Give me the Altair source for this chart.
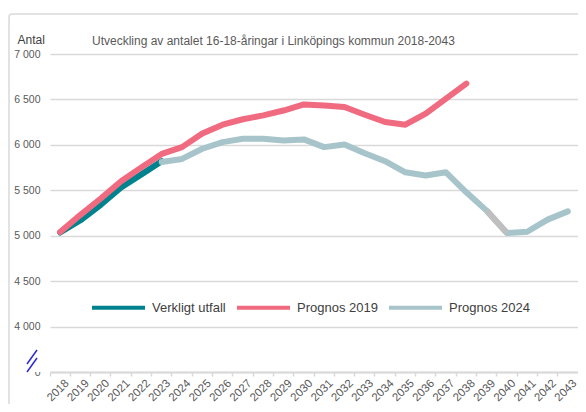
import altair as alt
import pandas as pd

# ---- data ----
all_years = list(range(2018, 2044))

years_actual = [2018, 2019, 2020, 2021, 2022, 2023]
actual = [5035, 5170, 5340, 5530, 5675, 5820]

years_p19 = list(range(2018, 2039))
p19 = [5040, 5230, 5410, 5600, 5752, 5900, 5975, 6125, 6222, 6282, 6325, 6378, 6445,
       6432, 6416, 6332, 6252, 6222, 6343, 6509, 6674]

years_p24 = list(range(2023, 2044))
p24 = [5812, 5845, 5957, 6030, 6067, 6067, 6049, 6060, 5975, 6004, 5908, 5820, 5698,
       5662, 5698, 5478, 5276, 5030, 5044, 5177, 5268]

grey_years = [2039, 2040]

series_names = ["Verkligt utfall", "Prognos 2019", "Prognos 2024"]
series_colors = ["#00838f", "#f06a80", "#a6c4ca"]

y_ticks = [3500, 4000, 4500, 5000, 5500, 6000, 6500, 7000]

title_text = "Utveckling av antalet 16-18-åringar i Linköpings kommun 2018-2043"

FONT = "Liberation Sans, Arial, sans-serif"

rows = []
for yrs, vals, name in [(years_actual, actual, series_names[0]),
                        (years_p19, p19, series_names[1]),
                        (years_p24, p24, series_names[2])]:
    for yr, v in zip(yrs, vals):
        rows.append({"year": str(yr), "value": v, "series": name})
df = pd.DataFrame(rows)
df_grey = df[(df.series == series_names[2]) & (df.year.isin([str(y) for y in grey_years]))]

x_enc = alt.X(
    "year:O",
    bandPosition=0.5,
    scale=alt.Scale(type="band", domain=[str(y) for y in all_years], paddingInner=0, paddingOuter=0),
    axis=alt.Axis(
        title=None, labelAngle=-45, bandPosition=0, labelOffset=3,
        tickSize=4, tickColor="#d9d9d9", tickWidth=1.5,
        domainColor="#d9d9d9", domainWidth=2, grid=False,
        labelColor="#595959", labelFontSize=11.5, labelFont=FONT,
        labelPadding=1, labelOverlap=False,
    ),
)
y_enc = alt.Y(
    "value:Q",
    scale=alt.Scale(domain=[3500, 7000], nice=False, zero=False),
    axis=alt.Axis(
        values=y_ticks,
        labelExpr="datum.value == 3500 ? '0' : replace(format(datum.value, ','), ',', ' ')",
        domain=False, ticks=False, labelPadding=10,
        gridColor="#d9d9d9", gridWidth=1.5,
        labelColor="#595959", labelFontSize=10.5, labelFont=FONT,
        title="Antal", titleAngle=0, titleX=-33, titleY=-11, titleAlign="left",
        titleBaseline="alphabetic", titleFontSize=12, titleFontWeight="normal",
        titleColor="#404040", titleFont=FONT,
    ),
)
color_enc = alt.Color(
    "series:N",
    scale=alt.Scale(domain=series_names, range=series_colors),
    legend=alt.Legend(
        title=None, orient="none", direction="horizontal", legendX=40, legendY=225,
        symbolType="stroke", symbolSize=2809, symbolStrokeWidth=4,
        labelFontSize=13, labelColor="#404040", labelFont=FONT,
        labelOffset=5, columnPadding=3,
    ),
)

base = alt.Chart(df).mark_line(strokeWidth=6, strokeCap="round", strokeJoin="round").encode(
    x=x_enc, y=y_enc, color=color_enc
)
layers = [base.transform_filter(alt.datum.series == n) for n in series_names]

grey_layer = alt.Chart(df_grey).mark_line(strokeWidth=6, strokeCap="butt", color="#bfbfbf").encode(
    x="year:O", y="value:Q"
)

one = pd.DataFrame({"a": [0]})
frame = alt.Chart(one).mark_rect(fillOpacity=0, stroke="#d9d9d9", strokeWidth=1.5, cornerRadius=3).encode(
    x=alt.value(-41), x2=alt.value(600), y=alt.value(-40), y2=alt.value(420)
)
cover = alt.Chart(one).mark_rect(fill="white").encode(
    x=alt.value(-20), x2=alt.value(-9), y=alt.value(290), y2=alt.value(318)
)
slash1 = alt.Chart(one).mark_rule(color="#2b2bd8", strokeWidth=1.5).encode(
    x=alt.value(-23), x2=alt.value(-13), y=alt.value(310), y2=alt.value(296)
)
slash2 = alt.Chart(one).mark_rule(color="#2b2bd8", strokeWidth=1.5).encode(
    x=alt.value(-23), x2=alt.value(-13), y=alt.value(318), y2=alt.value(304)
)

chart = alt.layer(frame, *layers, grey_layer, cover, slash1, slash2).properties(
    width=528, height=318,
    padding={"left": 42, "top": 46, "right": 0, "bottom": 32},
    autosize=alt.AutoSizeParams(type="none"),
    title=alt.Title(title_text, anchor="start", frame="group", dx=42, dy=42, offset=7,
                    fontSize=12, fontWeight="normal", color="#595959", font=FONT),
).configure_view(stroke=None)

chart.save("out.html", embed_options={"renderer": "svg", "actions": False})
